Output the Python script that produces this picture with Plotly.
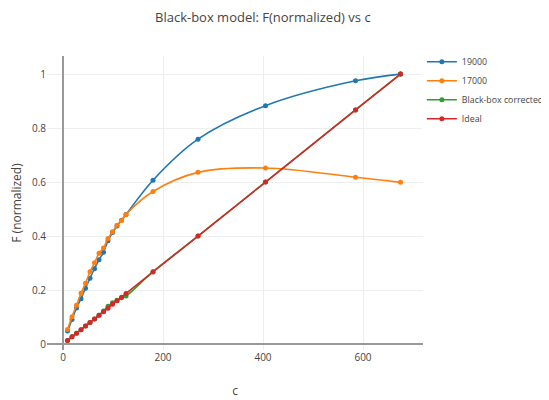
import plotly.graph_objects as go

c = [9, 18, 27, 36, 45, 54, 63, 72, 81, 90, 99, 108, 117, 126, 180, 270, 405, 585, 675]

f_19000 = [0.048, 0.091, 0.134, 0.168, 0.207, 0.244, 0.279, 0.312, 0.340, 0.383, 0.413,
           0.437, 0.459, 0.480, 0.607, 0.759, 0.883, 0.975, 1.0]
f_17000 = [0.054, 0.101, 0.144, 0.188, 0.225, 0.268, 0.301, 0.336, 0.356, 0.391, 0.416,
           0.440, 0.458, 0.480, 0.565, 0.636, 0.652, 0.618, 0.599]
f_corrected = [0.013, 0.027, 0.040, 0.053, 0.067, 0.080, 0.093, 0.107, 0.122, 0.140, 0.153,
               0.162, 0.172, 0.178, 0.268, 0.400, 0.600, 0.867, 1.0]
f_ideal = [0.013, 0.027, 0.040, 0.053, 0.067, 0.080, 0.093, 0.107, 0.120, 0.133, 0.147,
           0.160, 0.173, 0.187, 0.267, 0.400, 0.600, 0.867, 1.0]

series = [
    ("19000", f_19000, "#1f77b4"),
    ("17000", f_17000, "#ff7f0e"),
    ("Black-box corrected", f_corrected, "#2ca02c"),
    ("Ideal", f_ideal, "#d62728"),
]

fig = go.Figure()
for name, ys, col in series:
    fig.add_trace(go.Scatter(
        x=c, y=ys, name=name, mode="lines+markers",
        line=dict(color=col, width=1.6, shape="spline"),
        marker=dict(color=col, size=5),
    ))

# page body has an 8px margin, so the figure is sized to fit the 549x400 window
fig.update_layout(
    width=541, height=392,
    margin=dict(l=39, r=126, t=48, b=50, autoexpand=False),
    paper_bgcolor="white", plot_bgcolor="white",
    font=dict(family="Open Sans, sans-serif", size=10, color="#444"),
    title=dict(text="Black-box model: F(normalized) vs c", x=0.471, xanchor="center",
               y=0.975, yanchor="middle", font=dict(size=13)),
    legend=dict(x=0.997, y=1.03, xanchor="left", yanchor="top", font=dict(size=8.8)),
    showlegend=True,
)
fig.update_xaxes(range=[-32, 720], title=dict(text="c", standoff=23),
                 tickvals=[0, 200, 400, 600], gridcolor="#eee", zeroline=True,
                 zerolinecolor="#999", zerolinewidth=1.5, showline=False)
fig.update_yaxes(range=[-0.022, 1.067], title=dict(text="F (normalized)"),
                 tickvals=[0, 0.2, 0.4, 0.6, 0.8, 1], ticktext=["0", "0.2", "0.4", "0.6", "0.8", "1"],
                 gridcolor="#eee", zeroline=True, zerolinecolor="#999", zerolinewidth=1.5,
                 showline=False)

fig.write_html("out.html")
